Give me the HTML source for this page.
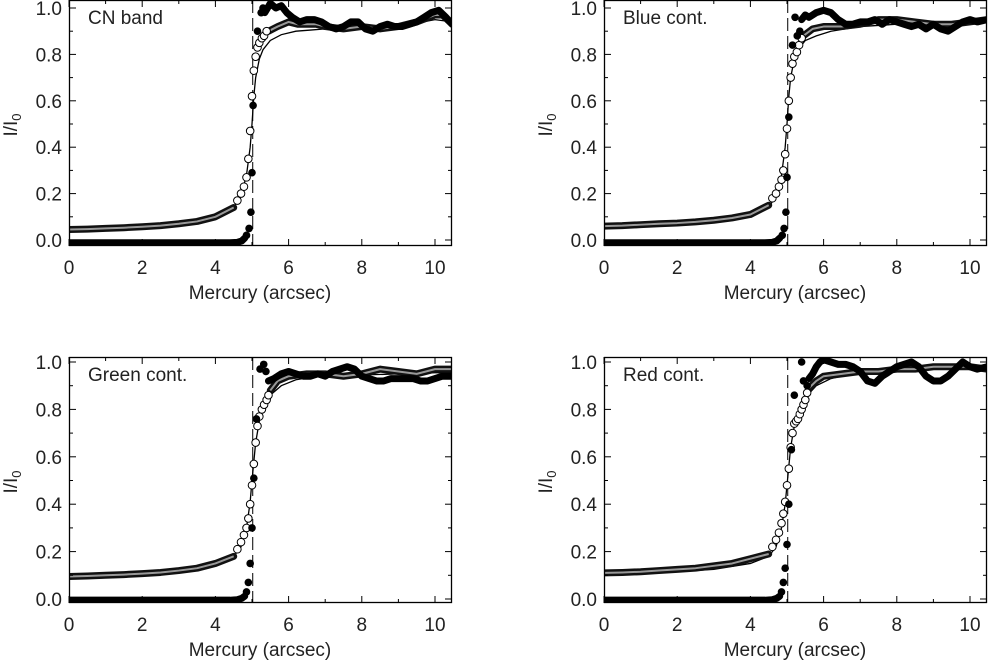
<!DOCTYPE html>
<html><head><meta charset="utf-8"><style>
html,body{margin:0;padding:0;background:#fff;}
svg{display:block;font-family:"Liberation Sans",sans-serif;}
</style></head><body>
<svg id="fig" width="989" height="661" viewBox="0 0 989 661" xmlns="http://www.w3.org/2000/svg"></svg>
<script>
// ---- data ----
const panelTitles = ["CN band","Blue cont.","Green cont.","Red cont."];
const xTicks = [0,2,4,6,8,10];
const yTicks = [0.0,0.2,0.4,0.6,0.8,1.0];
const limbX = 5.02;
const openLowX = [0,0.5,1,1.5,2,2.5,3,3.5,4,4.5];
const filledLowX = [0,0.4,0.8,1.2,1.6,2,2.4,2.8,3.2,3.6,4,4.4,4.6,4.72,4.8];
const modelX = [0,1,2,3,4,4.5,4.7,4.85,4.95,5.0,5.05,5.1,5.2,5.3,5.5,5.8,6.2,6.6,7,8,9,10,10.47];

const openLowY = [
 [0.045,0.047,0.05,0.053,0.057,0.062,0.07,0.08,0.10,0.14],
 [0.06,0.062,0.066,0.07,0.073,0.078,0.085,0.095,0.11,0.15],
 [0.095,0.097,0.1,0.103,0.107,0.112,0.12,0.13,0.15,0.18],
 [0.11,0.112,0.115,0.12,0.125,0.13,0.14,0.15,0.17,0.19]];
const openPtX = [
 [4.6,4.7,4.78,4.85,4.9,4.95,5.0,5.05,5.1,5.15,5.2,5.27,5.33,5.4],
 [4.6,4.7,4.78,4.85,4.9,4.95,5.0,5.05,5.1,5.15,5.2,5.27,5.33,5.4],
 [4.6,4.7,4.78,4.85,4.9,4.95,5.0,5.05,5.1,5.15,5.2,5.27,5.33,5.4,5.45],
 [4.6,4.7,4.78,4.85,4.9,4.95,5.0,5.05,5.1,5.15,5.2,5.25,5.3,5.35,5.4,5.45,5.5,5.55]];
const openPtY = [
 [0.17,0.2,0.23,0.27,0.35,0.47,0.62,0.73,0.79,0.83,0.85,0.87,0.88,0.9],
 [0.18,0.2,0.23,0.26,0.3,0.37,0.48,0.6,0.7,0.76,0.79,0.81,0.84,0.87],
 [0.21,0.24,0.27,0.3,0.34,0.4,0.48,0.57,0.66,0.73,0.77,0.8,0.82,0.84,0.86],
 [0.22,0.25,0.28,0.32,0.36,0.41,0.48,0.55,0.64,0.7,0.74,0.75,0.76,0.78,0.8,0.82,0.84,0.87]];
const openHighX = [
 [5.45,5.7,6.0,6.25,6.5,6.75,7,7.5,8,8.5,9,9.5,10,10.2,10.47],
 [5.45,5.7,6.0,6.5,7,7.5,8,8.5,9,9.5,10,10.47],
 [5.5,5.7,6.0,6.5,7,7.5,8,8.5,9,9.5,10,10.47],
 [5.6,5.8,6.0,6.5,7,7.5,8,8.5,9,9.5,10,10.47]];
const openHighY = [
 [0.9,0.92,0.94,0.93,0.93,0.93,0.92,0.91,0.92,0.91,0.92,0.94,0.97,0.97,0.93],
 [0.88,0.91,0.92,0.92,0.93,0.95,0.95,0.94,0.93,0.93,0.94,0.95],
 [0.88,0.92,0.94,0.95,0.95,0.94,0.95,0.97,0.96,0.95,0.97,0.97],
 [0.89,0.92,0.94,0.95,0.96,0.96,0.97,0.97,0.98,0.98,0.98,0.97]];
const filledLowY = [
 [-0.012,-0.012,-0.012,-0.012,-0.012,-0.012,-0.012,-0.012,-0.012,-0.012,-0.012,-0.012,-0.01,-0.004,0.008],
 [-0.012,-0.012,-0.012,-0.012,-0.012,-0.012,-0.012,-0.012,-0.012,-0.012,-0.012,-0.012,-0.01,-0.004,0.008],
 [-0.005,-0.005,-0.005,-0.005,-0.005,-0.005,-0.005,-0.005,-0.005,-0.005,-0.005,-0.005,-0.003,0.003,0.012],
 [-0.005,-0.005,-0.005,-0.005,-0.005,-0.005,-0.005,-0.005,-0.005,-0.005,-0.005,-0.005,-0.003,0.003,0.012]];
const filledPtX = [
 [4.85,4.92,4.97,5.0,5.03,5.15,5.25,5.3],
 [4.87,4.92,4.97,5.0,5.05,5.15,5.22,5.28,5.35],
 [4.85,4.9,4.95,5.0,5.05,5.12,5.22,5.32,5.38],
 [4.85,4.9,4.95,5.0,5.05,5.12,5.2,5.4,5.45,5.55]];
const filledPtY = [
 [0.02,0.05,0.12,0.29,0.58,0.9,0.98,1.0],
 [0.02,0.05,0.12,0.27,0.53,0.84,0.96,0.88,0.9],
 [0.03,0.07,0.15,0.3,0.51,0.76,0.97,0.99,0.96],
 [0.03,0.07,0.13,0.23,0.4,0.63,0.86,1.0,0.92,0.9]];
const filledHighX = [
 [5.35,5.5,5.65,5.8,5.95,6.1,6.3,6.5,6.7,6.9,7.1,7.3,7.5,7.7,7.9,8.1,8.3,8.5,8.7,8.9,9.1,9.3,9.5,9.7,9.9,10.1,10.3,10.47],
 [5.4,5.5,5.6,5.8,6.0,6.2,6.4,6.6,6.8,7.0,7.2,7.4,7.6,7.8,8.0,8.2,8.4,8.6,8.8,9.0,9.2,9.4,9.6,9.8,10.0,10.2,10.47],
 [5.45,5.6,5.8,6.0,6.2,6.4,6.6,6.8,7.0,7.2,7.4,7.6,7.8,8.0,8.2,8.4,8.6,8.8,9.0,9.2,9.4,9.6,9.8,10.0,10.2,10.47],
 [5.6,5.7,5.8,5.9,6.0,6.2,6.4,6.6,6.8,7.0,7.2,7.4,7.6,7.8,8.0,8.2,8.4,8.6,8.8,9.0,9.2,9.4,9.6,9.8,10.0,10.2,10.47]];
const filledHighY = [
 [0.98,1.02,1.0,1.01,0.98,0.96,0.94,0.95,0.95,0.94,0.92,0.91,0.92,0.94,0.94,0.91,0.90,0.92,0.93,0.92,0.92,0.93,0.94,0.96,0.98,0.99,0.96,0.93],
 [0.95,0.97,0.96,0.98,0.99,0.98,0.95,0.93,0.93,0.94,0.94,0.95,0.93,0.95,0.94,0.93,0.92,0.93,0.91,0.93,0.91,0.9,0.92,0.94,0.95,0.94,0.95],
 [0.92,0.93,0.95,0.96,0.95,0.94,0.94,0.95,0.94,0.96,0.97,0.98,0.97,0.94,0.93,0.92,0.92,0.93,0.93,0.93,0.93,0.92,0.92,0.93,0.94,0.94],
 [0.93,0.95,0.98,1.0,1.01,1.0,0.99,0.99,0.98,0.96,0.92,0.91,0.94,0.96,0.98,0.99,1.0,0.98,0.94,0.92,0.92,0.94,0.97,1.0,0.98,0.97,0.98]];
const modelY = [
 [0.04,0.045,0.055,0.07,0.1,0.14,0.19,0.28,0.4,0.5,0.62,0.7,0.78,0.82,0.86,0.885,0.9,0.905,0.91,0.91,0.92,0.95,0.94],
 [0.055,0.06,0.065,0.075,0.1,0.14,0.19,0.28,0.4,0.5,0.62,0.7,0.78,0.82,0.86,0.88,0.9,0.91,0.92,0.93,0.935,0.94,0.94],
 [0.095,0.1,0.105,0.12,0.15,0.18,0.22,0.3,0.41,0.5,0.58,0.66,0.75,0.8,0.86,0.9,0.925,0.935,0.94,0.945,0.95,0.955,0.955],
 [0.105,0.11,0.115,0.125,0.15,0.18,0.22,0.3,0.4,0.48,0.56,0.64,0.73,0.79,0.85,0.9,0.93,0.945,0.955,0.965,0.97,0.975,0.975]];

// ---- layout ----
const NS="http://www.w3.org/2000/svg";
const svg=document.getElementById('fig');
function mk(tag,attrs,parent){const e=document.createElementNS(NS,tag);for(const k in attrs)e.setAttribute(k,attrs[k]);(parent||svg).appendChild(e);return e;}
const boxes=[
 {l:69,r:452,t:0,b:246,x0:69,x10:435,y0:240,y1:8},
 {l:604,r:987,t:0,b:246,x0:604,x10:970,y0:240,y1:8},
 {l:69,r:452,t:357,b:603,x0:69,x10:435,y0:599,y1:362},
 {l:604,r:987,t:357,b:603,x0:604,x10:970,y0:599,y1:362}];
const names=["cn-band","blue-cont","green-cont","red-cont"];

boxes.forEach((B,p)=>{
 const g=mk('g',{});
 
 
 const sx=v=>B.x0+(B.x10-B.x0)*v/10;
 const sy=v=>B.y0-(B.y0-B.y1)*v;
 const clip=mk('clipPath',{id:'c'+p},g);
 mk('rect',{x:B.l,y:B.t,width:B.r-B.l,height:B.b-B.t},clip);
 const plot=mk('g',{'clip-path':'url(#c'+p+')'},g);
 const dl=mk('line',{x1:sx(limbX),x2:sx(limbX),y1:B.t,y2:B.b,stroke:'#000','stroke-width':1,'stroke-dasharray':'13,5'},plot);
 
 
 const ml=mk('polyline',{points:modelX.map((x,i)=>sx(x)+','+sy(modelY[p][i])).join(' '),fill:'none',stroke:'#000','stroke-width':1.3},plot);
 
 
 [[openLowX,openLowY[p]],[openHighX[p],openHighY[p]]].forEach(([xs,ys])=>{
   const pts=xs.map((x,i)=>sx(x)+','+sy(ys[i])).join(' ');
   const b1=mk('polyline',{points:pts,fill:'none',stroke:'#111','stroke-width':7,'stroke-linejoin':'round','stroke-linecap':'round'},plot);
   
   
   mk('polyline',{points:pts,fill:'none',stroke:'#999','stroke-width':2,'stroke-linejoin':'round'},plot);
 });
 openPtX[p].forEach((x,i)=>{
   const c=mk('circle',{cx:sx(x),cy:sy(openPtY[p][i]),r:3.8,fill:'#fff',stroke:'#000','stroke-width':1},plot);
   
   
 });
 [[filledLowX,filledLowY[p]],[filledHighX[p],filledHighY[p]]].forEach(([xs,ys])=>{
   const f=mk('polyline',{points:xs.map((x,i)=>sx(x)+','+sy(ys[i])).join(' '),fill:'none',stroke:'#000','stroke-width':7,'stroke-linejoin':'round','stroke-linecap':'round'},plot);
   
   
 });
 filledPtX[p].forEach((x,i)=>{
   const c=mk('circle',{cx:sx(x),cy:sy(filledPtY[p][i]),r:3.8,fill:'#000'},plot);
   
   
 });
 const fr=mk('rect',{x:B.l+0.5,y:B.t+0.5,width:B.r-B.l-1,height:B.b-B.t-1,fill:'none',stroke:'#000','stroke-width':1.3},g);
 
 
 for(let v=0;v<=10.5;v+=1){const major=(v%2===0);const L=major?7:4;
   mk('line',{x1:sx(v),x2:sx(v),y1:B.b,y2:B.b-L,stroke:'#000','stroke-width':1},g);
   mk('line',{x1:sx(v),x2:sx(v),y1:B.t,y2:B.t+L,stroke:'#000','stroke-width':1},g);}
 for(let k=0;k<=10;k++){const v=k/10;const major=(k%2===0);const L=major?7:4;
   mk('line',{x1:B.l,x2:B.l+L,y1:sy(v),y2:sy(v),stroke:'#000','stroke-width':1},g);
   mk('line',{x1:B.r,x2:B.r-L,y1:sy(v),y2:sy(v),stroke:'#000','stroke-width':1},g);}
 xTicks.forEach(v=>{const t=mk('text',{x:sx(v),y:B.b+28,'text-anchor':'middle','font-size':19,fill:'#222'},g);t.textContent=String(v);
   });
 yTicks.forEach(v=>{const t=mk('text',{x:B.l-7,y:sy(v)+7,'text-anchor':'end','font-size':19,fill:'#222'},g);t.textContent=v.toFixed(1);
   });
 const xt=mk('text',{x:(B.l+B.x10)/2+8,y:B.b+53,'text-anchor':'middle','font-size':19,fill:'#222'},g);
 xt.textContent='Mercury (arcsec)';
 
 
 const cy=(B.t+B.b)/2+2;
 const yt=mk('text',{x:0,y:0,'text-anchor':'middle','font-size':19,fill:'#222',transform:'translate('+(B.l-52)+','+cy+') rotate(-90)'},g);
 yt.innerHTML='I/I<tspan font-size="13" dy="4">0</tspan>';
 
 
 const tt=mk('text',{x:B.l+19,y:B.t+24,'font-size':19,fill:'#222'},g);
 tt.textContent=panelTitles[p];
 
 
});
</script>
</body></html>
